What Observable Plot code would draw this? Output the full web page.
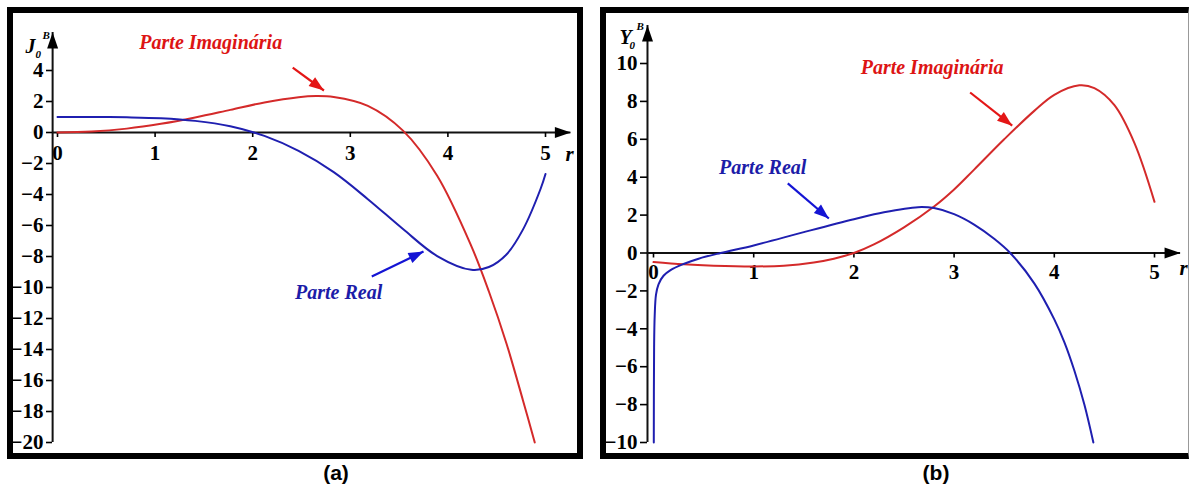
<!DOCTYPE html>
<html>
<head>
<meta charset="utf-8">
<script src="https://cdn.jsdelivr.net/npm/d3@7"></script>
<script src="https://cdn.jsdelivr.net/npm/@observablehq/plot@0.6"></script>
<style>
  html, body { margin: 0; padding: 0; background: #fff; width: 1191px; height: 487px; overflow: hidden; }
  .panel { position: absolute; box-sizing: border-box; border: 6px solid #000; background: transparent; pointer-events: none; }
  .chart { position: absolute; top: 0; }
  .chart svg text { font-family: 'Liberation Serif', 'Times New Roman', serif; font-weight: bold; }
  .caption { position: absolute; font-family: 'Liberation Sans', Arial, sans-serif; font-weight: bold; font-size: 21px; line-height: 1; transform: translateX(-50%); }
</style>
</head>
<body>
<div id="a" class="chart" style="left:0;width:590px"></div>
<div id="b" class="chart" style="left:595px;width:596px"></div>
<div class="panel" style="left:7px;top:7px;width:576px;height:452px"></div>
<div class="panel" style="left:600px;top:7px;width:589px;height:452px;border-right:1px solid #999"></div>
<div class="caption" style="left:336px;top:462px">(a)</div>
<div class="caption" style="left:936px;top:462px">(b)</div>
<script>
// ---- ticks ----
const rTicks = [0, 1, 2, 3, 4, 5];
const jTicks = [4, 2, 0, -2, -4, -6, -8, -10, -12, -14, -16, -18, -20];
const yTicks = [10, 8, 6, 4, 2, 0, -2, -4, -6, -8, -10];

// ---- J0 of B: [r, value] ----
const jReal = [
  [0, 1], [0.35, 1.0], [0.71, 0.98], [1.06, 0.92], [1.41, 0.75], [1.77, 0.40],
  [2.12, -0.22], [2.47, -1.19], [2.83, -2.56], [3.18, -4.30], [3.54, -6.23],
  [3.89, -7.97], [4.24, -8.86], [4.42, -8.68], [4.60, -7.87], [4.77, -6.25],
  [4.95, -3.63], [5.0, -2.68]
];
const jImag = [
  [0, 0], [0.35, 0.06], [0.71, 0.25], [1.06, 0.56], [1.41, 0.97], [1.77, 1.46],
  [2.12, 1.94], [2.47, 2.28], [2.65, 2.35], [2.83, 2.29], [3.18, 1.72],
  [3.54, 0.12], [3.89, -2.79], [4.24, -7.33], [4.42, -10.26], [4.60, -13.61],
  [4.77, -17.30], [4.89, -20]
];

// ---- Y0 of B: [r, value] ----
const yReal = [
  [0.003, -10], [0.006, -5], [0.012, -3.3], [0.025, -2.2], [0.05, -1.65],
  [0.1, -1.2], [0.17, -0.9], [0.3, -0.58], [0.45, -0.3], [0.67, 0], [1.0, 0.4],
  [1.5, 1.1], [2.0, 1.78], [2.3, 2.15], [2.64, 2.42], [2.8, 2.37], [3.0, 2.05],
  [3.2, 1.5], [3.4, 0.75], [3.56, 0], [3.8, -1.6], [4.0, -3.5], [4.1, -4.7],
  [4.2, -6.2], [4.3, -8.0], [4.39, -10]
];
const yImag = [
  [0, -0.48], [0.3, -0.6], [0.6, -0.67], [1.0, -0.71], [1.3, -0.67], [1.6, -0.5],
  [1.8, -0.3], [2.0, 0], [2.2, 0.45], [2.5, 1.35], [2.8, 2.45], [3.0, 3.35],
  [3.2, 4.4], [3.5, 6.0], [3.8, 7.5], [4.0, 8.35], [4.25, 8.85], [4.4, 8.7],
  [4.6, 7.8], [4.8, 5.8], [5.0, 2.7]
];

const RED = "#d42a2a", BLUE = "#1f1fb0";
const RED_TXT = "#dd1414", BLUE_TXT = "#1c1ca8";
const RED_ARROW = "#e41616", BLUE_ARROW = "#1414d4";
const SERIF = "'Liberation Serif', 'Times New Roman', serif";

// filled triangular arrowhead with its tip at the origin, pointing along `angle`
function head(angle, len, hw) {
  const c = Math.cos(angle), s = Math.sin(angle);
  return {
    draw(ctx) {
      ctx.moveTo(0, 0);
      ctx.lineTo(-len * c - hw * s, -len * s + hw * c);
      ctx.lineTo(-len * c + hw * s, -len * s - hw * c);
      ctx.closePath();
    }
  };
}

function panel(cfg) {
  const W = cfg.width, H = 460;
  const sx = d3.scaleLinear(cfg.xDomain, cfg.xRange);
  const sy = d3.scaleLinear(cfg.yDomain, cfg.yRange);
  const angle = (a) => Math.atan2(sy(a.to[1]) - sy(a.from[1]), sx(a.to[0]) - sx(a.from[0]));

  const arrowMarks = (a, color) => [
    Plot.link([a], {x1: d => d.from[0], y1: d => d.from[1], x2: d => d.to[0], y2: d => d.to[1], stroke: color, strokeWidth: 2.2}),
    Plot.dot([a], {x: d => d.to[0], y: d => d.to[1], symbol: head(angle(a), 15, 5.5), fill: color, stroke: "none"})
  ];
  const label = (t, color) => Plot.text([t], {
    x: d => d.at[0], y: d => d.at[1], text: d => d.text, fill: color,
    fontFamily: SERIF, fontWeight: "bold", fontStyle: "italic", fontSize: 20
  });

  const yMin = cfg.yDomain[0];
  return Plot.plot({
    width: W, height: H,
    marginLeft: cfg.axisPx, marginTop: 20, marginRight: 30,
    marginBottom: H - sy(0),
    x: {domain: cfg.xDomain, range: cfg.xRange},
    y: {domain: cfg.yDomain, range: cfg.yRange},
    style: {background: "transparent", color: "#000", fontFamily: SERIF, fontSize: "20px", fontWeight: "bold", overflow: "visible"},
    marks: [
      // axis lines with arrowheads
      Plot.ruleX([cfg.axisX], {y1: yMin, y2: cfg.yTop, stroke: "#111", strokeWidth: 2}),
      Plot.ruleY([0], {x1: cfg.axisX, x2: cfg.rTop, stroke: "#111", strokeWidth: 2}),
      Plot.dot([[cfg.axisX, cfg.yTop]], {symbol: head(-Math.PI / 2, 16, 5.5), fill: "#000", stroke: "none"}),
      Plot.dot([[cfg.rTop, 0]], {symbol: head(0, 16, 5.5), fill: "#000", stroke: "none"}),
      Plot.axisY({ticks: cfg.yTicks, tickFormat: d3.format("d"), tickSize: cfg.yTickSize, tickPadding: 3, label: null, strokeWidth: 1.6, fontSize: 21, fontWeight: "bold"}),
      Plot.axisX({ticks: rTicks, tickFormat: d3.format("d"), tickSize: 5, tickPadding: cfg.xPad, label: null, strokeWidth: 1.6, fontSize: 21, fontWeight: "bold"}),
      Plot.text(["r"], {x: cfg.rLabel[0], y: cfg.rLabel[1], fontStyle: "italic", fontWeight: "bold", fontSize: 21, fontFamily: SERIF}),
      // axis title: letter with subscript 0 and superscript B
      Plot.text([cfg.letter], {frameAnchor: "top-left", dx: cfg.title.dx, dy: cfg.title.dy, fontStyle: "italic", fontWeight: "bold", fontSize: 20, fontFamily: SERIF}),
      Plot.text(["0"], {frameAnchor: "top-left", dx: cfg.title.dx + 10, dy: cfg.title.dy + 12, fontStyle: "italic", fontWeight: "bold", fontSize: 11, fontFamily: SERIF}),
      Plot.text(["B"], {frameAnchor: "top-left", dx: cfg.title.dx + 17, dy: cfg.title.dy - 7, fontStyle: "italic", fontWeight: "bold", fontSize: 11, fontFamily: SERIF}),
      // curves
      Plot.line(cfg.imag, {curve: "catmull-rom", stroke: RED, strokeWidth: 2}),
      Plot.line(cfg.real, {curve: "catmull-rom", stroke: BLUE, strokeWidth: 2}),
      // annotations
      ...arrowMarks(cfg.imagArrow, RED_ARROW),
      ...arrowMarks(cfg.realArrow, BLUE_ARROW),
      label(cfg.imagLabel, RED_TXT),
      label(cfg.realLabel, BLUE_TXT)
    ]
  });
}

document.getElementById("a").append(panel({
  width: 590, axisPx: 52, axisX: -0.05, yTop: 6.45, rTop: 5.26,
  xDomain: [0, 5], xRange: [57, 545], yDomain: [-20, 4], yRange: [442, 70],
  yTicks: jTicks, yTickSize: 6, xPad: 8, rLabel: [5.246, -1.42],
  letter: "J", title: {dx: -27, dy: 18},
  real: jReal, imag: jImag,
  imagLabel: {text: "Parte Imaginária", at: [1.57, 5.81]},
  realLabel: {text: "Parte Real", at: [2.88, -10.32]},
  imagArrow: {from: [2.41, 4.19], to: [2.73, 2.71]},
  realArrow: {from: [3.22, -9.29], to: [3.75, -7.68]}
}));

document.getElementById("b").append(panel({
  width: 596, axisPx: 52, axisX: -0.06, yTop: 12.0, rTop: 5.26,
  xDomain: [0, 5], xRange: [58, 559], yDomain: [-10, 10], yRange: [442, 63],
  yTicks: yTicks, yTickSize: 7, xPad: 6, rLabel: [5.29, -0.82],
  letter: "Y", title: {dx: -28, dy: 9},
  real: yReal, imag: yImag,
  imagLabel: {text: "Parte Imaginária", at: [2.78, 9.79]},
  realLabel: {text: "Parte Real", at: [1.09, 4.51]},
  imagArrow: {from: [3.16, 8.47], to: [3.58, 6.72]},
  realArrow: {from: [1.34, 3.67], to: [1.75, 1.82]}
}));
</script>
</body>
</html>
